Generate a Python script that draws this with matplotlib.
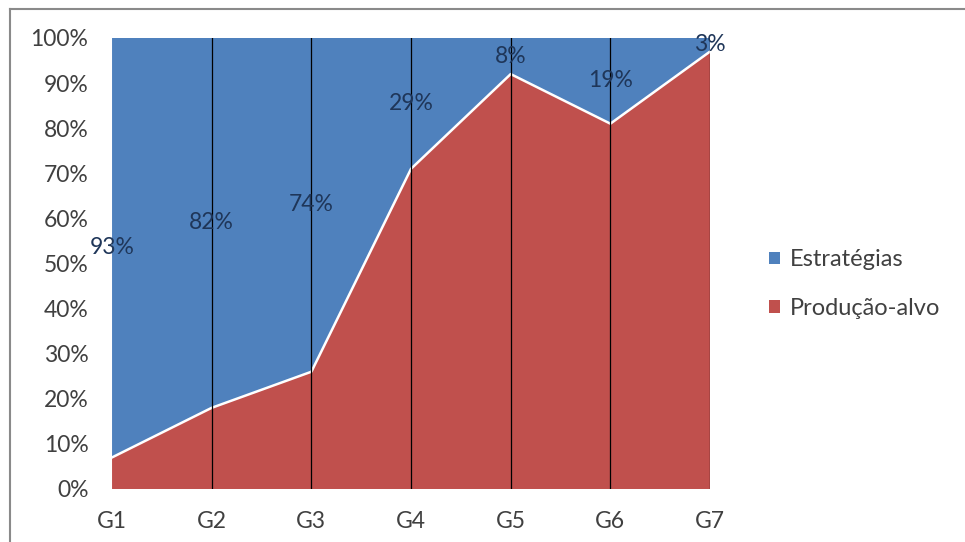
import numpy as np
import matplotlib.pyplot as plt
from matplotlib.patches import Patch
from matplotlib.lines import Line2D

plt.rcParams['font.family'] = ['Lato', 'DejaVu Sans']

# ---- data (percent of each group) ----
groups = ["G1", "G2", "G3", "G4", "G5", "G6", "G7"]
estrategias = [93, 82, 74, 29, 8, 19, 3]
producao_alvo = [7, 18, 26, 71, 92, 81, 97]
y_ticks = [0, 10, 20, 30, 40, 50, 60, 70, 80, 90, 100]

blue = "#4F81BD"
red = "#C0504D"
text_col = "#404040"
label_col = "#1F3659"

x = np.arange(len(groups))
prod = np.array(producao_alvo, dtype=float)
estr = np.array(estrategias, dtype=float)

fig = plt.figure(figsize=(9.65, 5.42), dpi=100)
ax = fig.add_axes([0.1161, 0.0978, 0.6197, 0.8321])

# stacked 100% area: target production at the bottom, strategies on top
ax.stackplot(x, prod, estr, colors=[red, blue], linewidth=0, zorder=1)
ax.plot(x, prod, color="white", linewidth=1.8, zorder=2)

# category gridlines
for xi in x[1:]:
    ax.axvline(xi, color="black", linewidth=0.9, zorder=3)

# data labels in the middle of the strategies band
for xi, p, e in zip(x, prod, estr):
    ax.text(xi, p + e / 2, f"{e:.0f}%", ha="center", va="center",
            fontsize=16.5, color=label_col, zorder=4)

ax.set_xlim(0, len(groups) - 1)
ax.set_ylim(0, 100)
ax.set_xticks(x)
ax.set_xticklabels(groups)
ax.set_yticks(y_ticks)
ax.set_yticklabels([f"{v}%" for v in y_ticks])
ax.tick_params(axis="both", length=0, labelsize=16.5, colors=text_col)
ax.tick_params(axis="y", pad=17)
ax.tick_params(axis="x", pad=16)
for s in ax.spines.values():
    s.set_visible(False)

handles = [Patch(facecolor=blue, edgecolor="none"),
           Patch(facecolor=red, edgecolor="none")]
fig.legend(handles, ["Estratégias", "Produção-alvo"], loc="center left",
           bbox_to_anchor=(0.775, 0.476), frameon=False, fontsize=17,
           handlelength=0.45, handleheight=0.45, handletextpad=0.45,
           labelspacing=1.15, labelcolor=text_col)

# chart frame (top and left edges)
fig.add_artist(Line2D([10 / 965, 1], [1 - 9 / 542, 1 - 9 / 542],
                      transform=fig.transFigure, color="#8a8a8a", linewidth=1.5))
fig.add_artist(Line2D([10 / 965, 10 / 965], [0, 1 - 9 / 542],
                      transform=fig.transFigure, color="#8a8a8a", linewidth=1.5))

fig.savefig("out.png", dpi=100)
